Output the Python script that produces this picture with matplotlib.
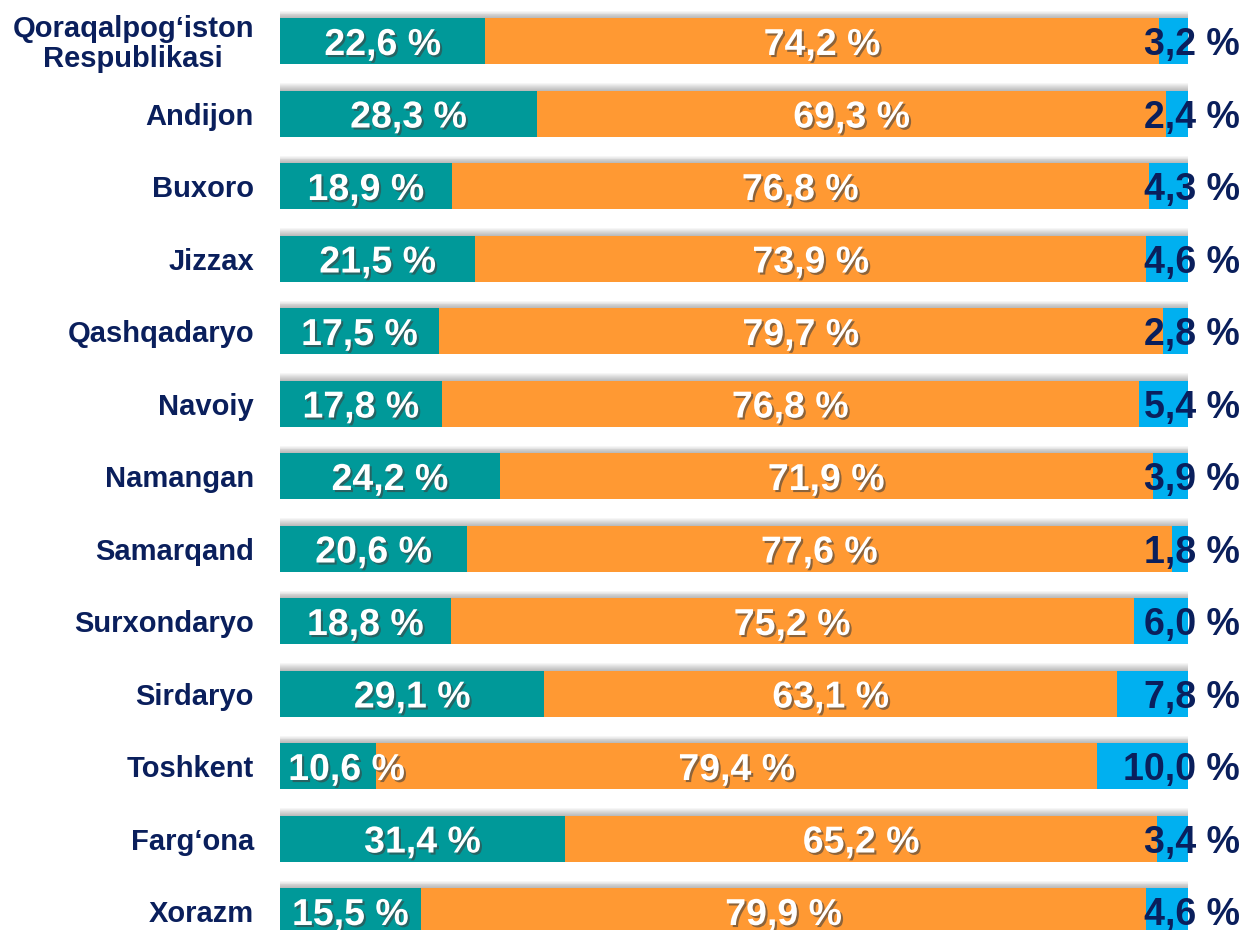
import matplotlib
matplotlib.use("Agg")
import matplotlib.pyplot as plt
import matplotlib.patheffects as pe
import numpy as np

plt.rcParams['font.family'] = ['Liberation Sans', 'DejaVu Sans']

categories = ["Qoraqalpog‘iston\nRespublikasi", "Andijon", "Buxoro", "Jizzax", "Qashqadaryo",
              "Navoiy", "Namangan", "Samarqand", "Surxondaryo", "Sirdaryo", "Toshkent",
              "Farg‘ona", "Xorazm"]
teal_vals = [22.6, 28.3, 18.9, 21.5, 17.5, 17.8, 24.2, 20.6, 18.8, 29.1, 10.6, 31.4, 15.5]
orange_vals = [74.2, 69.3, 76.8, 73.9, 79.7, 76.8, 71.9, 77.6, 75.2, 63.1, 79.4, 65.2, 79.9]
blue_vals = [3.2, 2.4, 4.3, 4.6, 2.8, 5.4, 3.9, 1.8, 6.0, 7.8, 10.0, 3.4, 4.6]

TEAL = "#009999"
ORANGE = "#FF9933"
BLUE = "#00B0F0"
NAVY = "#0A1F5C"

W, H = 1244, 930
fig = plt.figure(figsize=(W / 100, H / 100), dpi=100)
ax = fig.add_axes([280 / W, 0, 908 / W, 1])

n = len(categories)
y = np.arange(n)
pitch = 72.5
top_c = 41
ax.set_xlim(0, 100)
ax.set_ylim((H - top_c) / pitch, -top_c / pitch)
bh = 46 / pitch

teal = np.array(teal_vals)
orange = np.array(orange_vals)
blue = np.array(blue_vals)
total = teal + orange + blue

# soft shadow above bars
px = 1 / pitch
for k in range(1, 9):
    ax.barh(y - k * px * 0.9, total, height=bh, left=0, color="#000000",
            alpha=0.035, zorder=1, linewidth=0)

ax.barh(y, teal, height=bh, color=TEAL, zorder=2, linewidth=0)
ax.barh(y, orange, height=bh, left=teal, color=ORANGE, zorder=2, linewidth=0)
ax.barh(y, blue, height=bh, left=teal + orange, color=BLUE, zorder=2, linewidth=0)

shadow = [pe.SimplePatchShadow(offset=(1.5, -1.5), shadow_rgbFace="#404040", alpha=0.6), pe.Normal()]

def fmt(v):
    return f"{v:.1f}".replace(".", ",") + " %"

dy = 4 * px
PT = 72 / 100  # points per pixel
for i in range(n):
    yt = y[i] + dy
    if teal[i] < 12:
        ax.text(0.9, yt, fmt(teal[i]), ha="left", va="center", color="white",
                fontsize=27, fontweight="bold", zorder=5, path_effects=shadow)
    else:
        ax.text(teal[i] / 2, yt, fmt(teal[i]), ha="center", va="center", color="white",
                fontsize=27, fontweight="bold", zorder=5, path_effects=shadow)
    ax.text(teal[i] + orange[i] / 2, yt, fmt(orange[i]), ha="center", va="center",
            color="white", fontsize=27, fontweight="bold", zorder=5, path_effects=shadow)
    ax.annotate(fmt(blue[i]), xy=(1, yt), xycoords=("axes fraction", "data"),
                xytext=(52 * PT, 0), textcoords="offset points", ha="right", va="center",
                color=NAVY, fontsize=27, fontweight="bold", zorder=6, annotation_clip=False)
    ax.annotate(categories[i], xy=(0, y[i] + 3 * px), xycoords=("axes fraction", "data"),
                xytext=(-26 * PT, 0), textcoords="offset points", ha="right", va="center",
                multialignment="center", linespacing=1.1,
                color=NAVY, fontsize=21, fontweight="bold", annotation_clip=False)

ax.axis("off")
fig.savefig("out.png", dpi=100)
